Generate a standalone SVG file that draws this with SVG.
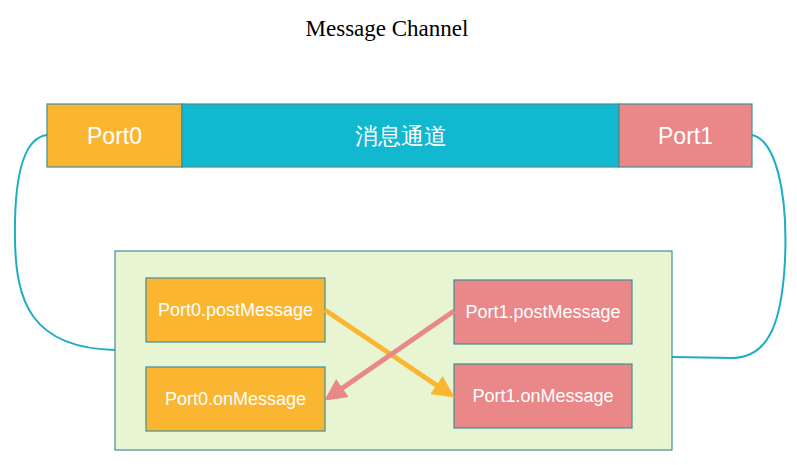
<svg xmlns="http://www.w3.org/2000/svg" width="797" height="465" viewBox="0 0 797 465">
<defs>
<style>
.box{stroke:#3f8f96;stroke-width:1.2}
.or{fill:#fbb631}
.pk{fill:#ea8789}
.tl{fill:#12b7d0}
.lbl{font-family:"Liberation Sans",Arial,sans-serif;fill:#ffffff;text-anchor:middle;dominant-baseline:central}
.big{font-size:23px}
.sm{font-size:18px}
.curve{fill:none;stroke:#1eaec3;stroke-width:2}
</style>
<marker id="ao" viewBox="0 0 10 10" refX="8" refY="5" markerWidth="4.4" markerHeight="4.4" orient="auto" markerUnits="strokeWidth"><path d="M0,0 L10,5 L0,10 z" fill="#fbb631"/></marker>
<marker id="ap" viewBox="0 0 10 10" refX="8" refY="5" markerWidth="4.4" markerHeight="4.4" orient="auto" markerUnits="strokeWidth"><path d="M0,0 L10,5 L0,10 z" fill="#ea8789"/></marker>
</defs>
<rect width="797" height="465" fill="#ffffff"/>
<text x="387" y="28" font-family="Liberation Serif,'Times New Roman',serif" font-size="23" text-anchor="middle" dominant-baseline="central" fill="#000">Message Channel</text>
<g id="connectors">
<path class="curve" d="M47,135 C22,138 14,180 15,240 C16,300 30,348 115,350"/>
<path class="curve" d="M752,135 C775,140 788,190 785,260 C782,320 770,357 733,358 L672,357"/>
</g>
<g id="container"><rect x="115" y="251" width="557" height="199" fill="#e8f5d2" class="box"/></g>
<g id="port0"><rect class="box or" x="47" y="104" width="135" height="63"/><text class="lbl big" x="114.5" y="135.5">Port0</text></g>
<g id="channel"><rect class="box tl" x="182" y="104" width="437" height="63"/><text class="lbl big" x="400.5" y="135.5" font-family="'Liberation Sans','Noto Sans CJK SC',sans-serif">消息通道</text></g>
<g id="port1"><rect class="box pk" x="619" y="104" width="133" height="63"/><text class="lbl big" x="685.5" y="135.5">Port1</text></g>
<g id="p0post"><rect class="box or" x="146" y="278" width="179" height="64"/><text class="lbl sm" x="235.5" y="310">Port0.postMessage</text></g>
<g id="p0on"><rect class="box or" x="146" y="367" width="179" height="64"/><text class="lbl sm" x="235.5" y="399">Port0.onMessage</text></g>
<g id="p1post"><rect class="box pk" x="454" y="280" width="178" height="64"/><text class="lbl sm" x="543" y="312">Port1.postMessage</text></g>
<g id="p1on"><rect class="box pk" x="454" y="364" width="178" height="64"/><text class="lbl sm" x="543" y="396">Port1.onMessage</text></g>
<g id="arrows">
<line x1="325" y1="310" x2="451" y2="395" stroke="#fbb631" stroke-width="5" marker-end="url(#ao)"/>
<line x1="454" y1="311" x2="328" y2="398" stroke="#ea8789" stroke-width="5" marker-end="url(#ap)"/>
</g>
</svg>
